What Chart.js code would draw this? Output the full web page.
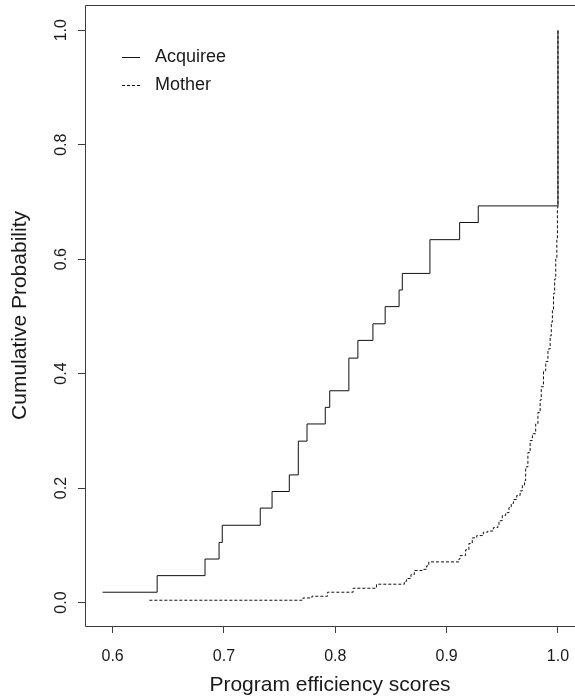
<!DOCTYPE html>
<html>
<head>
<meta charset="utf-8">
<script src="https://cdn.jsdelivr.net/npm/chart.js@4.4.1/dist/chart.umd.min.js"></script>
<style>
  html, body { margin: 0; padding: 0; background: #fff; overflow: hidden; }
  #wrap { width: 575px; height: 696px; }
</style>
</head>
<body>
<div id="wrap"><canvas id="ecdf-chart" width="575" height="696"></canvas></div>
<script>
// Acquiree : début de chaque palier (x) et niveau cumulé (y)
const acquireeX = [0.591, 0.640, 0.683, 0.6956, 0.6985, 0.7326, 0.7432, 0.7587, 0.7668, 0.7746, 0.7910,
                   0.7950, 0.8122, 0.8203, 0.8338, 0.8448, 0.8573, 0.8602, 0.8850, 0.9117, 0.9284, 1.0];
const acquireeY = [0.018, 0.047, 0.076, 0.105, 0.135, 0.165, 0.194, 0.223, 0.282, 0.312, 0.341,
                   0.370, 0.427, 0.458, 0.487, 0.517, 0.546, 0.575, 0.634, 0.664, 0.693, 1.0];

// Mother : même principe, beaucoup plus de paliers
const motherX = [0.633, 0.771, 0.779, 0.793, 0.816, 0.837, 0.862, 0.864, 0.868, 0.871, 0.878, 0.882, 0.884,
                 0.911, 0.912, 0.917, 0.920, 0.923, 0.927, 0.933, 0.937, 0.942, 0.946, 0.947, 0.950, 0.953,
                 0.956, 0.958, 0.960, 0.963, 0.966, 0.968, 0.970, 0.971, 0.973, 0.975, 0.977, 0.980, 0.982,
                 0.984, 0.985, 0.987, 0.989, 0.991, 0.993, 0.994, 0.995, 0.996, 0.997, 0.998, 0.999, 0.9995, 1.0];
const motherY = [0.004, 0.008, 0.011, 0.018, 0.025, 0.032, 0.037, 0.042, 0.049, 0.056, 0.058, 0.064, 0.071,
                 0.076, 0.082, 0.092, 0.103, 0.113, 0.117, 0.123, 0.125, 0.131, 0.134, 0.143, 0.152, 0.157,
                 0.166, 0.173, 0.180, 0.187, 0.195, 0.205, 0.213, 0.237, 0.262, 0.283, 0.295, 0.312, 0.332,
                 0.354, 0.377, 0.405, 0.421, 0.443, 0.466, 0.490, 0.510, 0.540, 0.565, 0.600, 0.635, 0.690, 1.0];

const seriesNames = ["Acquiree", "Mother"];
const xTicks = [0.6, 0.7, 0.8, 0.9, 1.0];
const yTicks = [0.0, 0.2, 0.4, 0.6, 0.8, 1.0];

const FONT = "'Liberation Sans', Arial, Helvetica, sans-serif";
const INK = "#1a1a1a";
const AXIS = "#3c3c3c";

function toPoints(xs, ys) {
    return xs.map((x, i) => ({ x: x, y: ys[i] }));
}

// Cadre façon R (le bord droit sort du canvas) + légende dans la zone du graphique
const frameAndLegend = {
    id: "frameAndLegend",
    afterDraw(chart) {
        const { ctx, chartArea: a } = chart;
        ctx.save();
        ctx.strokeStyle = AXIS;
        ctx.lineWidth = 1;
        ctx.setLineDash([]);
        ctx.beginPath();
        ctx.moveTo(a.right + 2, a.top + 0.5);
        ctx.lineTo(a.left + 0.5, a.top + 0.5);
        ctx.lineTo(a.left + 0.5, a.bottom + 0.5);
        ctx.lineTo(a.right + 2, a.bottom + 0.5);
        ctx.stroke();

        ctx.font = "18px " + FONT;
        ctx.textBaseline = "middle";
        ctx.textAlign = "left";
        chart.data.datasets.forEach((ds, i) => {
            const y = 57 + i * 28;
            ctx.strokeStyle = ds.borderColor;
            ctx.lineWidth = ds.borderWidth;
            ctx.setLineDash(ds.borderDash || []);
            ctx.beginPath();
            ctx.moveTo(122, y + 0.5);
            ctx.lineTo(140, y + 0.5);
            ctx.stroke();
            ctx.fillStyle = INK;
            ctx.fillText(ds.label, 155, y);
        });
        ctx.restore();
    }
};

const ctx = document.getElementById("ecdf-chart").getContext("2d");

new Chart(ctx, {
    type: "line",
    data: {
        datasets: [{
            label: seriesNames[0],
            data: toPoints(acquireeX, acquireeY),
            borderColor: "#111111",
            borderWidth: 1,
            stepped: "before",
            pointRadius: 0,
            fill: false,
        }, {
            label: seriesNames[1],
            data: toPoints(motherX, motherY),
            borderColor: "#111111",
            borderWidth: 1,
            borderDash: [3, 2],
            stepped: "before",
            pointRadius: 0,
            fill: false,
        }]
    },
    options: {
        responsive: false,
        animation: false,
        layout: { padding: { top: 5, left: 0, right: 0, bottom: 0 } },
        plugins: {
            legend: { display: false },
            tooltip: { enabled: false },
        },
        scales: {
            x: {
                type: "linear",
                min: 0.5752,
                max: 1.0153,
                afterBuildTicks: (scale) => { scale.ticks = xTicks.map(v => ({ value: v })); },
                afterFit: (scale) => {
                    scale.height = 70;
                    scale.paddingLeft = 0;
                    scale.paddingRight = 0;
                },
                grid: { drawOnChartArea: false, drawTicks: true, tickLength: 7, tickColor: AXIS, lineWidth: 1 },
                border: { display: false },
                ticks: {
                    autoSkip: false,
                    maxRotation: 0,
                    padding: 14,
                    color: INK,
                    font: { family: FONT, size: 16 },
                    callback: (v) => Number(v).toFixed(1),
                },
                title: {
                    display: true,
                    text: "Program efficiency scores",
                    color: INK,
                    font: { family: FONT, size: 21, lineHeight: 1 },
                    padding: { top: 0, bottom: 0 },
                },
            },
            y: {
                type: "linear",
                min: -0.041,
                max: 1.044,
                afterBuildTicks: (scale) => { scale.ticks = yTicks.map(v => ({ value: v })); },
                afterFit: (scale) => {
                    scale.width = 85;
                    scale.paddingTop = 0;
                    scale.paddingBottom = 0;
                },
                grid: { drawOnChartArea: false, drawTicks: true, tickLength: 7, tickColor: AXIS, lineWidth: 1 },
                border: { display: false },
                ticks: {
                    autoSkip: false,
                    minRotation: 90,
                    maxRotation: 90,
                    crossAlign: "center",
                    padding: 5,
                    color: INK,
                    font: { family: FONT, size: 16 },
                    callback: (v) => Number(v).toFixed(1),
                },
                title: {
                    display: true,
                    text: "Cumulative Probability",
                    color: INK,
                    font: { family: FONT, size: 21, lineHeight: 1 },
                    padding: { top: 10, bottom: 0 },
                },
            },
        },
    },
    plugins: [frameAndLegend],
});
</script>
</body>
</html>
